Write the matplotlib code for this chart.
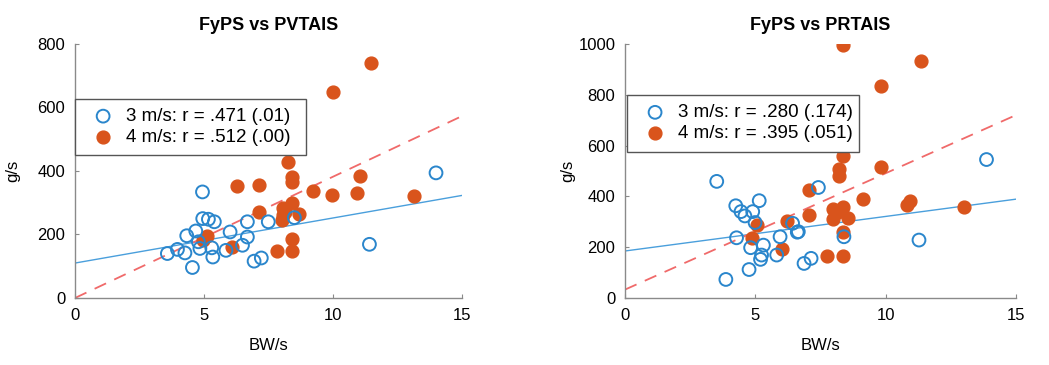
#!/usr/bin/env python3

# Two scatter panels: FyPS vs PVTAIS and FyPS vs PRTAIS at 3 and 4 m/s,
# each with a fitted line per speed.

import matplotlib.pyplot as plt
import numpy as np

plt.rcParams["font.family"] = ["Liberation Sans", "DejaVu Sans"]

BLUE = "#2a86cc"
ORANGE = "#d9541c"
BLUE_LINE = "#4a9fdc"
RED_LINE = "#f06a6a"

# --- FyPS vs PVTAIS ---
pv_3_x = [3.58, 3.97, 4.26, 4.33, 4.55, 4.68, 4.84, 4.94, 4.95, 5.17, 5.40, 5.30, 5.34,
          5.85, 6.01, 6.49, 6.68, 6.68, 6.94, 7.22, 7.49, 8.50, 11.41, 13.99, 4.78]
pv_3_y = [140, 153, 142, 196, 96, 211, 156, 334, 250, 248, 240, 158, 129,
          150, 208, 166, 192, 240, 116, 126, 240, 253, 169, 394, 177]
pv_4_x = [11.46, 9.99, 8.27, 8.42, 8.42, 6.29, 7.14, 9.24, 9.95, 10.92, 11.05, 13.14, 7.14,
          8.42, 8.07, 8.05, 8.01, 8.69, 8.42, 8.42, 7.82, 6.07, 5.10, 4.97, 8.14]
pv_4_y = [739, 648, 429, 382, 364, 352, 355, 336, 324, 332, 384, 322, 271,
          298, 282, 261, 245, 263, 185, 147, 147, 161, 195, 182, 271]
pv_fit_3 = [110, 14.2]   # intercept, slope
pv_fit_4 = [0, 38.2]
pv_labels = ["3 m/s: r = .471 (.01)", "4 m/s: r = .512 (.00)"]

# --- FyPS vs PRTAIS ---
pr_3_x = [3.52, 3.87, 4.25, 4.28, 4.45, 4.60, 4.76, 4.82, 4.90, 4.99, 5.15, 5.31, 5.24,
          5.20, 5.82, 5.95, 6.43, 6.61, 6.65, 6.87, 7.14, 7.42, 8.40, 11.28, 13.87]
pr_3_y = [459, 73, 363, 237, 340, 323, 112, 198, 340, 297, 383, 208, 169,
          152, 169, 241, 294, 259, 261, 136, 156, 435, 241, 228, 545]
pr_4_x = [8.35, 11.34, 9.82, 8.35, 8.21, 8.21, 9.82, 7.07, 9.14, 10.81, 10.93, 13.01, 8.35,
          7.99, 8.18, 7.99, 8.57, 7.07, 6.20, 5.08, 4.88, 6.01, 8.35, 7.74, 8.35]
pr_4_y = [996, 934, 835, 558, 508, 479, 515, 426, 389, 367, 380, 360, 360,
          351, 340, 310, 314, 327, 305, 288, 237, 193, 261, 165, 165]
pr_fit_3 = [185, 13.6]
pr_fit_4 = [33, 45.8]
pr_labels = ["3 m/s: r = .280 (.174)", "4 m/s: r = .395 (.051)"]


def draw_panel(ax, title, x3, y3, x4, y4, fit3, fit4, labels, ymax, yticks,
               legend_box, ylabelpad):
    xs = np.array([0, 15])
    ax.plot(xs, fit3[0] + fit3[1] * xs, color=BLUE_LINE, lw=1.0, zorder=1)
    ax.plot(xs, fit4[0] + fit4[1] * xs, color=RED_LINE, lw=1.3,
            dashes=(7, 5), zorder=1)

    h3 = ax.scatter(x3, y3, s=85, facecolors="none", edgecolors=BLUE,
                    linewidths=1.4, zorder=3)
    h4 = ax.scatter(x4, y4, s=85, color=ORANGE, edgecolors=ORANGE,
                    linewidths=1.0, zorder=2)

    ax.set_xlim(0, 15)
    ax.set_ylim(0, ymax)
    ax.set_xticks([0, 5, 10, 15])
    ax.set_yticks(yticks)

    for side in ("top", "right"):
        ax.spines[side].set_visible(False)
    for side in ("left", "bottom"):
        ax.spines[side].set_color("#8a8a8a")
        ax.spines[side].set_linewidth(1.0)

    ax.tick_params(direction="in", length=3, color="#8a8a8a", labelsize=12, pad=7)
    ax.set_title(title, fontsize=13, fontweight="bold", pad=10)
    ax.set_xlabel("BW/s", fontsize=12, labelpad=11)
    ax.set_ylabel("g/s", fontsize=12, labelpad=ylabelpad)

    # legend box given as (x0, y_top, width) in axes fraction
    x0, ytop, width = legend_box
    leg = ax.legend([h3, h4], labels, loc="upper left",
                    bbox_to_anchor=(x0, 0.0, width, ytop), mode="expand",
                    borderaxespad=0, fontsize=13.5, frameon=True, fancybox=False,
                    framealpha=1, edgecolor="#555555", handletextpad=0.2,
                    borderpad=0.5, labelspacing=0.2, handlelength=2.0)
    leg.get_frame().set_linewidth(1.0)


fig = plt.figure(figsize=(10.49, 3.65), dpi=100)
ax1 = fig.add_axes([0.0715, 0.1836, 0.369, 0.696])
ax2 = fig.add_axes([0.5958, 0.1836, 0.3727, 0.696])

draw_panel(ax1, "FyPS vs PVTAIS", pv_3_x, pv_3_y, pv_4_x, pv_4_y,
           pv_fit_3, pv_fit_4, pv_labels, 800, [0, 200, 400, 600, 800],
           (0.0, 0.785, 0.597), 12)
draw_panel(ax2, "FyPS vs PRTAIS", pr_3_x, pr_3_y, pr_4_x, pr_4_y,
           pr_fit_3, pr_fit_4, pr_labels, 1000, [0, 200, 400, 600, 800, 1000],
           (0.005, 0.80, 0.593), 2)

fig.savefig("out.png", dpi=100)
